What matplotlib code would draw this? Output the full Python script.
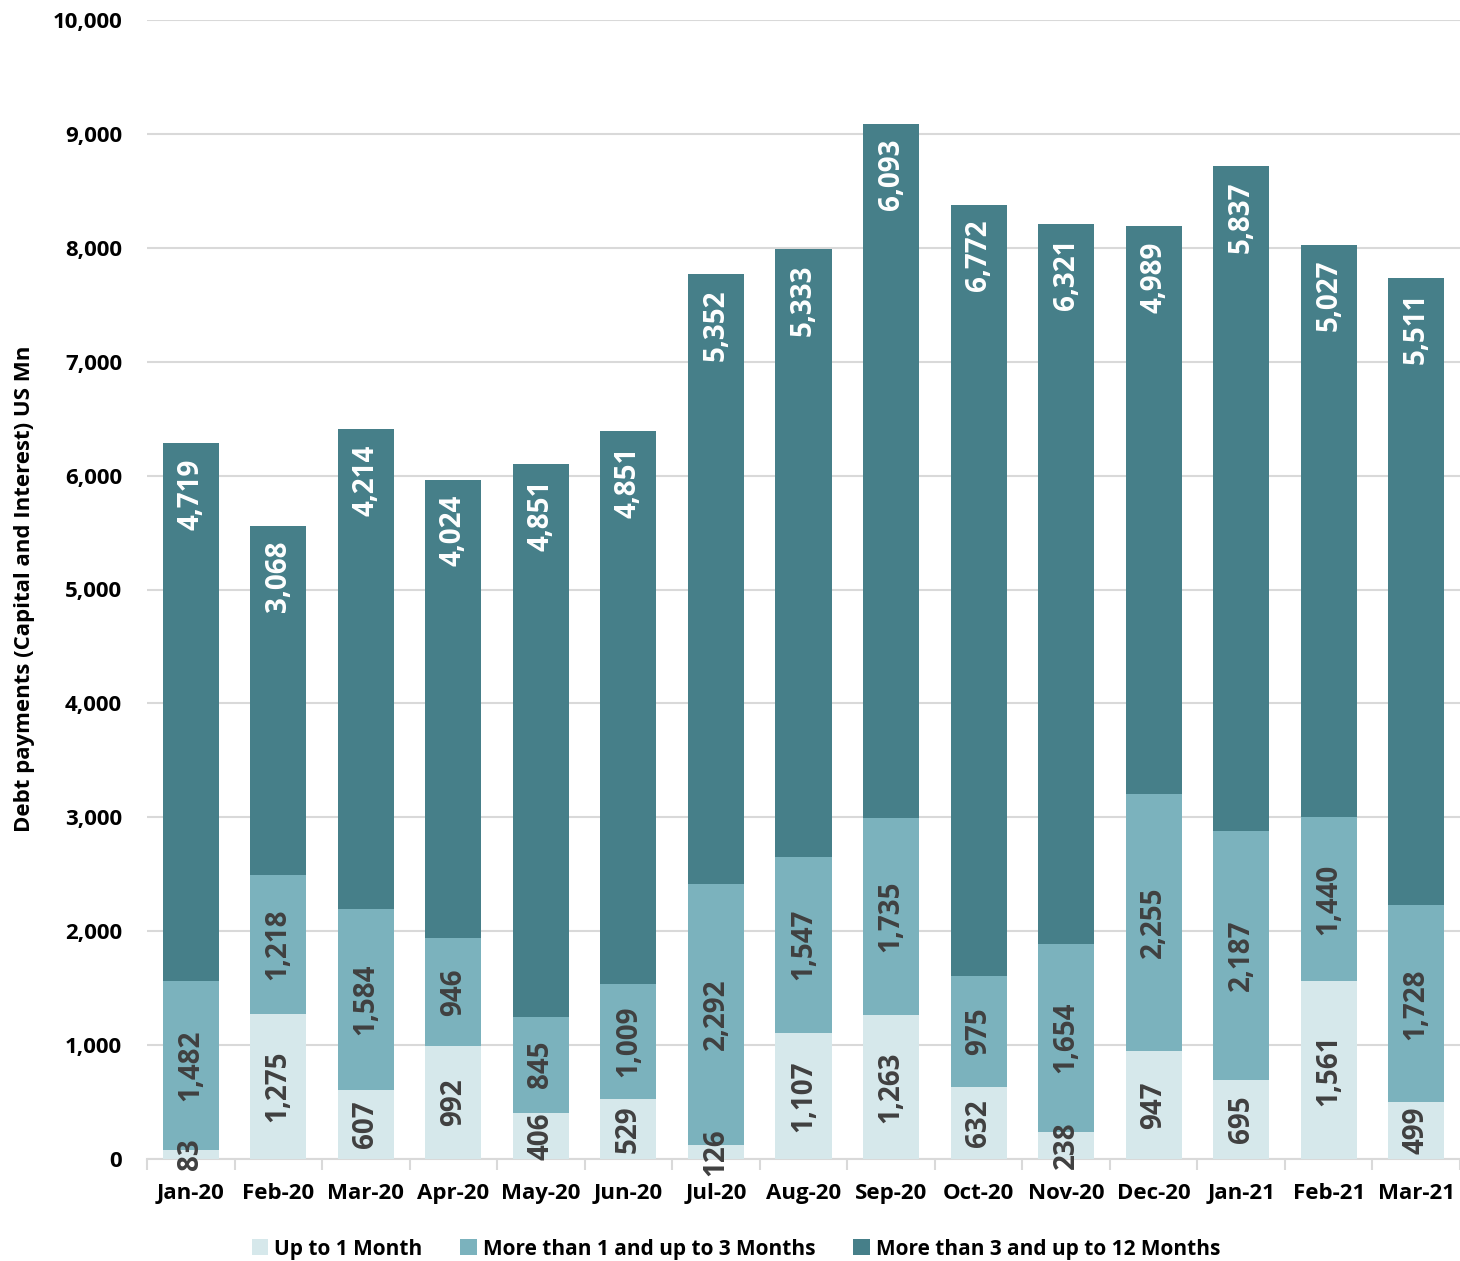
import matplotlib
matplotlib.use("Agg")
import matplotlib.pyplot as plt
from matplotlib.ticker import FuncFormatter, FixedLocator
import numpy as np

months = ["Jan-20", "Feb-20", "Mar-20", "Apr-20", "May-20", "Jun-20", "Jul-20", "Aug-20",
          "Sep-20", "Oct-20", "Nov-20", "Dec-20", "Jan-21", "Feb-21", "Mar-21"]
up_to_1 = [83, 1275, 607, 992, 406, 529, 126, 1107, 1263, 632, 238, 947, 695, 1561, 499]
one_to_3 = [1482, 1218, 1584, 946, 845, 1009, 2292, 1547, 1735, 975, 1654, 2255, 2187, 1440, 1728]
three_to_12 = [4719, 3068, 4214, 4024, 4851, 4851, 5352, 5333, 6093, 6772, 6321, 4989, 5837, 5027, 5511]

series = [
    ("Up to 1 Month", up_to_1, "#D6E8EB", "#404040", "center"),
    ("More than 1 and up to 3 Months", one_to_3, "#7BB2BD", "#404040", "center"),
    ("More than 3 and up to 12 Months", three_to_12, "#467F89", "white", "top"),
]

plt.rcParams['font.family'] = ['Open Sans', 'DejaVu Sans']
fig = plt.figure(figsize=(14.6, 12.61), dpi=100)
ax = fig.add_axes([147/1460, 1 - 1159/1261, 1 - 147/1460, (1159 - 20)/1261])

x = np.arange(len(months))
bottom = np.zeros(len(months))
handles = []
for name, vals, col, tcol, pos in series:
    vals = np.array(vals, dtype=float)
    b = ax.bar(x, vals, 0.64, bottom=bottom, color=col, label=name, zorder=3)
    handles.append(b)
    for xi, v, bt in zip(x, vals, bottom):
        if pos == "center":
            ax.text(xi, bt + v / 2, f"{int(v):,}", rotation=90, ha="center", va="center",
                    color=tcol, fontsize=20, fontweight="bold", zorder=4)
        else:
            ax.annotate(f"{int(v):,}", (xi, bt + v), xytext=(0, -11), textcoords="offset points",
                        rotation=90, ha="center", va="top", color=tcol, fontsize=20,
                        fontweight="bold", zorder=4)
    bottom += vals

ax.set_xlim(-0.5, len(months) - 0.5)
ax.set_ylim(0, 10000)
ax.set_yticks(np.arange(0, 10001, 1000))
ax.yaxis.set_major_formatter(FuncFormatter(lambda v, p: f"{int(v):,}"))
ax.yaxis.grid(True, color="#D9D9D9", linewidth=1.5, zorder=0)
ax.set_axisbelow(True)
for s in ["top", "right", "left"]:
    ax.spines[s].set_visible(False)
ax.spines["bottom"].set_color("#D9D9D9")
ax.spines["bottom"].set_linewidth(1.5)
ax.tick_params(axis="y", length=0, labelsize=16, pad=18)
ax.set_xticks(x)
ax.set_xticklabels(months, fontsize=16, fontweight="bold")
ax.tick_params(axis="x", length=0, pad=17)
ax.xaxis.set_minor_locator(FixedLocator(np.arange(-0.5, len(months), 1.0)))
ax.tick_params(axis="x", which="minor", length=8, color="#D9D9D9", width=1.5)
for lbl in ax.get_yticklabels():
    lbl.set_fontweight("bold")

fig.text(25/1460, 1 - 589/1261, "Debt payments (Capital and Interest) US Mn", rotation=90,
         ha="center", va="center", fontsize=16, fontweight="bold")

leg = fig.legend(handles=handles, loc="center", bbox_to_anchor=(736/1460, 1 - 1249/1261),
                 ncol=3, frameon=False, fontsize=15, handlelength=0.8, handleheight=0.8,
                 columnspacing=1.8, handletextpad=0.3)
for t in leg.get_texts():
    t.set_fontweight("bold")

fig.savefig("out.png", dpi=100)
